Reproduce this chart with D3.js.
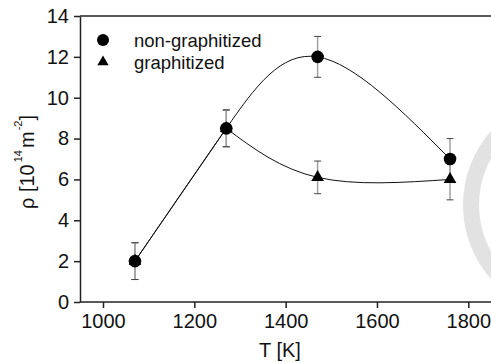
<!DOCTYPE html>
<html>
<head>
<meta charset="utf-8">
<script src="https://cdn.jsdelivr.net/npm/d3@7"></script>
<style>
  body { margin: 0; background: #fff; }
  text { font-family: "Liberation Sans", Arial, sans-serif; fill: #111; }
</style>
</head>
<body>
<svg id="svg" width="491" height="362"></svg>
<script>
// data
const temps = [1070, 1270, 1470, 1760];
const nonGraph = [2.0, 8.5, 12.0, 7.0];
const nonGraphErr = [0.9, 0.9, 1.0, 1.0];
const graph = [2.0, 8.5, 6.1, 6.0];
const graphErr = [0.9, 0.9, 0.8, 1.0];
const xTicks = [1000, 1200, 1400, 1600, 1800];
const yTicks = [0, 2, 4, 6, 8, 10, 12, 14];
const legendLabels = ['non-graphitized', 'graphitized'];

const svg = d3.select('#svg');

const x = d3.scaleLinear().domain([1000, 1800]).range([103, 468.3]);
const y = d3.scaleLinear().domain([0, 14]).range([302, 16]);

// faint watermark at the right edge
svg.append('circle')
  .attr('cx', 575).attr('cy', 205).attr('r', 104)
  .attr('fill', 'none').attr('stroke', '#e2e2e2').attr('stroke-width', 16);

// axes
const xAxis = d3.axisBottom(x).tickValues(xTicks).tickFormat(d3.format('d'))
  .tickSize(6).tickSizeOuter(0).tickPadding(6);
const yAxis = d3.axisLeft(y).tickValues(yTicks).tickFormat(d3.format('d'))
  .tickSize(6).tickSizeOuter(0).tickPadding(5);

const gx = svg.append('g').attr('transform', 'translate(0,302)').call(xAxis);
gx.select('.domain').attr('d', 'M80,0H491');
const gy = svg.append('g').attr('transform', 'translate(80,0)').call(yAxis);
[gx, gy].forEach(g => {
  g.selectAll('path, line').attr('stroke', '#222').attr('stroke-width', 1.5);
  g.selectAll('text').style('font-size', '20px').attr('fill', '#111');
});
// top frame line
svg.append('line')
  .attr('x1', 80).attr('x2', 491).attr('y1', y(14)).attr('y2', y(14))
  .attr('stroke', '#222').attr('stroke-width', 1.5);

// labels
svg.append('text')
  .attr('x', 280).attr('y', 357)
  .attr('text-anchor', 'middle')
  .style('font-size', '20px')
  .text('T [K]');

const yl = svg.append('text')
  .attr('transform', 'translate(34,162) rotate(-90)')
  .attr('text-anchor', 'middle')
  .style('font-size', '20px');
yl.append('tspan').text('ρ [10');
yl.append('tspan').attr('dy', -12).attr('dx', 2).style('font-size', '11px').text('14');
yl.append('tspan').attr('dy', 12).attr('dx', 2).text('m');
yl.append('tspan').attr('dy', -12).attr('dx', 1).style('font-size', '11px').text('-2');
yl.append('tspan').attr('dy', 12).text(']');

// curves
const smooth = d3.line()
  .x(d => x(d[0]))
  .y(d => y(d[1]))
  .curve(d3.curveNatural);
const straight = d3.line()
  .x(d => x(d[0]))
  .y(d => y(d[1]));

const ngPts = temps.map((t, i) => [t, nonGraph[i]]);
const gPts = temps.map((t, i) => [t, graph[i]]);

function curvePath(d, gen) {
  svg.append('path')
    .datum(d)
    .attr('d', gen)
    .attr('fill', 'none')
    .attr('stroke', '#111')
    .attr('stroke-width', 1);
}
curvePath(ngPts, smooth);
curvePath(gPts.slice(0, 2), straight);
curvePath(gPts.slice(1), smooth);

// error bars
function errorBars(vals, errs) {
  const g = svg.append('g');
  temps.forEach((t, i) => {
    const cx = x(t);
    g.append('line')
      .attr('x1', cx).attr('x2', cx)
      .attr('y1', y(vals[i] - errs[i])).attr('y2', y(vals[i] + errs[i]))
      .attr('stroke', '#a0a0a0').attr('stroke-width', 1.5);
    [vals[i] - errs[i], vals[i] + errs[i]].forEach(v => {
      g.append('line')
        .attr('x1', cx - 3.5).attr('x2', cx + 3.5)
        .attr('y1', y(v)).attr('y2', y(v))
        .attr('stroke', '#444').attr('stroke-width', 1);
    });
  });
}
errorBars(graph, graphErr);
errorBars(nonGraph, nonGraphErr);

// markers
const tri = d3.symbol().type(d3.symbolTriangle).size(70);
svg.append('g').selectAll('path')
  .data(gPts)
  .join('path')
  .attr('d', tri)
  .attr('transform', d => `translate(${x(d[0])},${y(d[1])})`)
  .attr('fill', '#000');

svg.append('g').selectAll('circle')
  .data(ngPts)
  .join('circle')
  .attr('cx', d => x(d[0]))
  .attr('cy', d => y(d[1]))
  .attr('r', 6.3)
  .attr('fill', '#000');

// legend
const leg = svg.append('g');
leg.append('circle').attr('cx', 103).attr('cy', 40).attr('r', 6).attr('fill', '#000');
leg.append('path').attr('d', d3.symbol().type(d3.symbolTriangle).size(55))
  .attr('transform', 'translate(103,62)').attr('fill', '#000');
legendLabels.forEach((l, i) => {
  leg.append('text')
    .attr('x', 134).attr('y', 47 + i * 21.5)
    .style('font-size', '18.5px')
    .text(l);
});
</script>
</body>
</html>
